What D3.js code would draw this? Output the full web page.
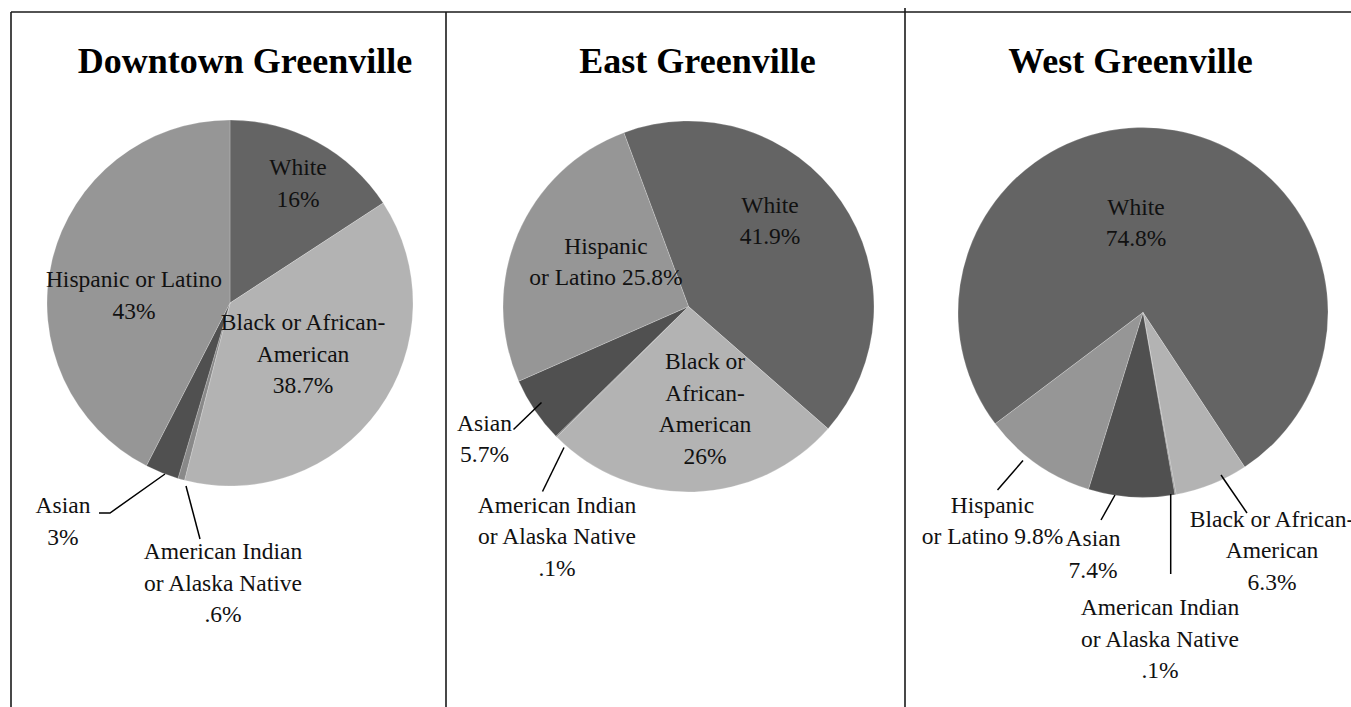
<!DOCTYPE html>
<html>
<head>
<meta charset="utf-8">
<script src="https://cdn.jsdelivr.net/npm/d3@7"></script>
<style>
  html, body { margin: 0; padding: 0; background: #fff; }
  svg { display: block; }
</style>
</head>
<body>
<svg id="chart" width="1351" height="707"></svg>
<script>
// ---------------- DATA ----------------
const categories = ["White", "Black or African-American", "American Indian or Alaska Native", "Asian", "Hispanic or Latino"];
const areaNames = ["Downtown Greenville", "East Greenville", "West Greenville"];
const downtownValues = [16, 38.7, 0.6, 3, 43];
const eastValues = [41.9, 26, 0.1, 5.7, 25.8];
const westValues = [74.8, 6.3, 0.1, 7.4, 9.8];
const downtownLabels = [["White", "16%"], ["Black or African-", "American", "38.7%"], ["American Indian", "or Alaska Native", ".6%"], ["Asian", "3%"], ["Hispanic or Latino", "43%"]];
const eastLabels = [["White", "41.9%"], ["Black or", "African-", "American", "26%"], ["American Indian", "or Alaska Native", ".1%"], ["Asian", "5.7%"], ["Hispanic", "or Latino 25.8%"]];
const westLabels = [["White", "74.8%"], ["Black or African-", "American", "6.3%"], ["American Indian", "or Alaska Native", ".1%"], ["Asian", "7.4%"], ["Hispanic", "or Latino 9.8%"]];

// ---------------- STYLE / LAYOUT ----------------
const colors = ["#646464", "#b3b3b3", "#898989", "#505050", "#969696"];
const panels = [
  { cx: 230, cy: 303, r: 183, start: 0, titleX: 245,
    values: downtownValues, labels: downtownLabels,
    pos: [[68, -128], [73, 27], [-7, 256], [-167, 210], [-96, -16]],
    leaders: [null, null, [[-44, 183], [-30, 236]], [[-131, 210], [-120, 210], [-65, 171]], null] },
  { cx: 688.5, cy: 306.5, r: 185.5, start: -20.4, titleX: 697.5,
    values: eastValues, labels: eastLabels,
    pos: [[81.5, -94], [16.5, 62.5], [-131.5, 206], [-204, 124], [-82.5, -53]],
    leaders: [null, null, [[-124.5, 141], [-146, 185]], [[-175, 123], [-147, 96]], null] },
  { cx: 1143, cy: 312.5, r: 185, start: 233, titleX: 1130.5,
    values: westValues, labels: westLabels,
    pos: [[-7, -98], [129, 214], [17, 302.5], [-50, 233.5], [-150.5, 200]],
    leaders: [null, [[78, 162.5], [104, 200.5]], [[27.7, 181.5], [27.7, 261.5]], [[-28, 182.5], [-42, 207.5]], [[-120, 148], [-145.5, 177.5]]] }
];
const lineH = 31.6;
const font = "'Liberation Serif', 'Times New Roman', serif";

const svg = d3.select("#chart");

panels.forEach((p, i) => {
  const g = svg.append("g").attr("transform", `translate(${p.cx},${p.cy})`);
  const s = p.start * Math.PI / 180;
  const pie = d3.pie().sort(null).startAngle(s).endAngle(s + 2 * Math.PI);
  const arc = d3.arc().innerRadius(0).outerRadius(p.r);
  const arcs = pie(p.values);

  g.selectAll("path.slice").data(arcs).join("path")
    .attr("class", "slice")
    .attr("d", arc)
    .attr("fill", (d, j) => colors[j])
    .attr("stroke", "#ffffff")
    .attr("stroke-opacity", 0.35)
    .attr("stroke-width", 0.6);

  // leader lines
  p.leaders.forEach(l => {
    if (!l) return;
    g.append("polyline")
      .attr("points", l.map(pt => pt.join(",")).join(" "))
      .attr("fill", "none")
      .attr("stroke", "#000")
      .attr("stroke-width", 1.5);
  });

  // labels
  p.labels.forEach((lines, j) => {
    const t = g.append("text")
      .attr("text-anchor", "middle")
      .attr("font-family", font)
      .attr("font-size", 23.5)
      .attr("fill", "#111");
    lines.forEach((ln, k) => {
      t.append("tspan")
        .attr("x", p.pos[j][0])
        .attr("y", p.pos[j][1] + k * lineH)
        .text(ln);
    });
  });

  // title
  svg.append("text")
    .attr("x", p.titleX)
    .attr("y", 73)
    .attr("text-anchor", "middle")
    .attr("font-family", font)
    .attr("font-weight", "bold")
    .attr("font-size", 36)
    .attr("fill", "#000")
    .text(areaNames[i]);
});

// panel frame lines
const frame = svg.append("g").attr("stroke", "#1a1a1a").attr("stroke-width", 1.6);
frame.append("line").attr("x1", 11).attr("x2", 1351).attr("y1", 12).attr("y2", 12);
frame.append("line").attr("x1", 11).attr("x2", 11).attr("y1", 12).attr("y2", 707);
frame.append("line").attr("x1", 446).attr("x2", 446).attr("y1", 12).attr("y2", 707);
frame.append("line").attr("x1", 905).attr("x2", 905).attr("y1", 8).attr("y2", 707);
</script>
</body>
</html>
